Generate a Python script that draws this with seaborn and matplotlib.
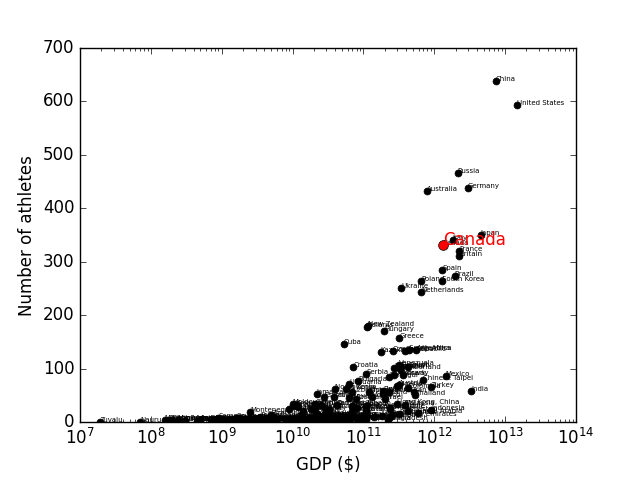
"""Olympic team size against GDP, one dot per country."""

import matplotlib
matplotlib.use("Agg")
import matplotlib.pyplot as plt
import pandas as pd
import seaborn as sns

plt.style.use("classic")

# country, GDP ($), number of athletes
countries = [
    "China", "United States", "Russia", "Germany", "Australia", "Japan", "Italy",
    "Canada", "France", "Britain", "Spain", "Brazil", "South Korea", "Poland",
    "Ukraine", "Netherlands", "Belarus", "New Zealand", "Hungary", "Greece", "Cuba",
    "Kazakhstan", "Czech Republic", "Sweden", "South Africa", "Argentina",
    "Croatia", "Venezuela", "Serbia", "Romania", "Belgium", "Egypt", "Switzerland",
    "Portugal", "Denmark", "Norway", "Chinese Taipei", "Mexico", "Bulgaria",
    "Turkey", "Colombia", "Iran", "India", "Jamaica", "Nigeria", "Austria",
    "Lithuania", "Latvia", "Estonia", "Slovenia", "Slovakia", "Finland", "Ireland",
    "Uzbekistan", "Azerbaijan", "Georgia", "Armenia", "Morocco", "Algeria",
    "Tunisia", "Kenya", "Ethiopia", "Thailand", "Malaysia", "Singapore",
    "Indonesia", "Philippines", "Vietnam", "Pakistan", "Chile", "Peru",
    "Puerto Rico", "Dominican Republic", "Israel", "Saudi Arabia", "Qatar",
    "United Arab Emirates", "Hong Kong, China", "North Korea", "Mongolia",
    "Kyrgyzstan", "Tajikistan", "Moldova", "Bosnia and Herzegovina", "Macedonia",
    "Albania", "Montenegro", "Iceland", "Luxembourg", "Cyprus", "Malta",
    "Ecuador", "Bolivia", "Paraguay", "Uruguay", "Costa Rica", "Guatemala",
    "El Salvador", "Honduras", "Nicaragua", "Panama", "Trinidad and Tobago",
    "Barbados", "Bahamas", "Cameroon", "Senegal", "Ivory Coast", "Ghana", "Sudan",
    "Angola", "Mali", "Zimbabwe", "Uganda", "Tanzania", "Botswana", "Namibia",
    "Zambia", "Mozambique", "Madagascar", "Gabon", "Congo", "Benin",
    "Burkina Faso", "Guinea", "Niger", "Rwanda", "Malawi", "Togo", "Chad",
    "Mauritania", "Haiti", "Afghanistan", "Nepal", "Cambodia", "Laos",
    "Bangladesh", "Sri Lanka", "Myanmar", "Syria", "Jordan", "Lebanon", "Oman",
    "Bahrain", "Kuwait", "Iraq", "Yemen", "Libya", "Turkmenistan",
    "Papua New Guinea", "Fiji", "Samoa", "Tonga", "Vanuatu", "Solomon Islands",
    "Kiribati", "Palau", "Micronesia", "Marshall Islands", "Cook Islands",
    "American Samoa", "Guam", "Nauru", "Tuvalu", "Eritrea", "Swaziland",
    "Lesotho", "Sierra Leone", "Liberia", "Gambia", "Guinea-Bissau",
    "Cape Verde", "Sao Tome and Principe", "Comoros", "Seychelles", "Djibouti",
    "Burundi", "Central African Republic", "Equatorial Guinea", "Somalia",
    "Suriname", "Guyana", "Belize", "Grenada", "Saint Lucia", "Dominica",
    "Saint Kitts and Nevis", "Antigua and Barbuda", "Saint Vincent",
    "Bermuda", "Cayman Islands", "Aruba", "British Virgin Islands",
    "US Virgin Islands", "Andorra", "Liechtenstein", "Monaco", "San Marino",
    "Bhutan", "Maldives", "Timor-Leste", "Palestine", "DR Congo",
]

gdp = [
    7.4e12, 1.47e13, 2.15e12, 2.95e12, 7.8e11, 4.55e12, 1.82e12,
    1.32e12, 2.25e12, 2.25e12, 1.29e12, 1.95e12, 1.3e12, 6.5e11,
    3.4e11, 6.6e11, 1.12e11, 1.15e11, 1.95e11, 3.2e11, 5.3e10,
    1.75e11, 2.6e11, 3.9e11, 4.4e11, 5.6e11,
    7.2e10, 3.2e11, 1.1e11, 2.7e11, 3.4e11, 4.3e11, 3.3e11,
    2.3e11, 2.7e11, 3.6e11, 7.0e11, 1.45e12, 8.5e10,
    8.9e11, 4.3e11, 5.1e11, 3.3e12, 2.2e10, 3.0e11, 3.2e11,
    6.3e10, 3.9e10, 2.8e10, 5.6e10, 1.2e11, 1.9e11, 1.9e11,
    7.0e10, 7.8e10, 2.1e10, 1.8e10, 1.3e11, 2.3e11,
    8.0e10, 6.2e10, 6.8e10, 5.4e11, 3.8e11, 2.4e11,
    9.0e11, 3.2e11, 2.4e11, 4.3e11, 2.4e11, 2.5e11,
    7.0e10, 7.5e10, 2.0e11, 5.8e11, 1.1e11,
    1.8e11, 3.0e11, 4.0e10, 1.0e10,
    1.1e10, 1.3e10, 1.0e10, 3.0e10, 1.9e10,
    2.3e10, 2.5e9, 1.2e10, 3.8e10, 2.2e10, 1.0e10,
    1.1e11, 4.3e10, 2.8e10, 4.3e10, 4.8e10, 6.7e10,
    4.3e10, 2.9e10, 1.6e10, 3.9e10, 2.5e10,
    5.0e9, 9.0e9, 4.2e10, 2.1e10, 3.3e10, 3.3e10, 8.5e10,
    1.1e11, 1.4e10, 5.0e9, 3.5e10, 5.0e10, 2.6e10, 1.3e10,
    1.8e10, 1.7e10, 1.9e10, 2.2e10, 1.4e10, 1.2e10,
    1.7e10, 1.0e10, 9.0e9, 8.0e9, 1.2e10, 5.0e9, 1.5e10,
    6.0e9, 1.1e10, 2.3e10, 3.0e10, 2.7e10, 1.3e10,
    2.2e11, 9.0e10, 8.0e10, 9.0e10, 3.0e10, 4.6e10, 6.5e10,
    2.8e10, 1.4e11, 1.1e11, 5.5e10, 9.0e10, 2.6e10,
    1.2e10, 3.5e9, 9.0e8, 4.5e8, 8.0e8, 1.2e9,
    3.0e8, 1.8e8, 2.4e8, 1.6e8, 2.0e8,
    5.0e8, 2.5e9, 7.0e7, 1.9e7, 3.5e9, 5.5e9,
    3.0e9, 4.0e9, 1.5e9, 2.0e9, 1.0e9,
    1.6e9, 3.0e8, 7.0e8, 1.6e9, 1.8e9,
    3.0e9, 3.0e9, 2.3e10, 8.0e9,
    4.0e9, 2.8e9, 2.3e9, 9.0e8, 1.6e9, 5.0e8,
    7.0e8, 1.2e9, 9.0e8,
    4.5e9, 2.0e9, 2.5e9, 1.0e9,
    1.6e9, 3.0e9, 4.0e9, 5.0e9, 1.7e9,
    3.0e9, 2.0e9, 2.5e9, 5.0e9, 2.0e10,
]

athletes = [
    638, 593, 466, 438, 433, 351, 341,
    331, 321, 311, 285, 274, 265, 265,
    252, 243, 179, 181, 170, 157, 147,
    131, 133, 134, 136, 136,
    104, 108, 90, 101, 104, 103, 99,
    84, 88, 88, 80, 86, 77,
    67, 65, 56, 58, 54, 68, 70,
    71, 47, 47, 62, 57, 58, 54,
    56, 44, 35, 25, 47, 56,
    27, 46, 31, 51, 32, 26,
    24, 15, 11, 21, 25, 14,
    22, 26, 43, 18, 21,
    12, 34, 63, 30,
    32, 14, 35, 5, 9,
    11, 19, 28, 12, 16, 6,
    25, 6, 7, 12, 7, 12,
    11, 26, 6, 3, 32,
    11, 25, 33, 23, 23, 9, 9,
    31, 22, 14, 10, 7, 12, 10,
    8, 4, 6, 6, 6, 5,
    6, 5, 4, 5, 4, 3, 2,
    2, 7, 4, 5, 4, 4,
    5, 8, 6, 8, 7, 6, 4,
    13, 10, 4, 5, 6, 10,
    7, 6, 8, 3, 3, 2,
    3, 5, 5, 5, 4,
    4, 7, 1, 1, 10, 4,
    4, 3, 3, 3, 4,
    3, 3, 3, 8, 2,
    4, 4, 4, 2,
    5, 4, 3, 4, 4, 2,
    5, 5, 3,
    6, 4, 2, 2,
    7, 5, 2, 5, 4,
    2, 4, 2, 4, 4,
]

highlight = "Canada"

df = pd.DataFrame({"country": countries, "gdp": gdp, "athletes": athletes})

fig, ax = plt.subplots(figsize=(6.4, 4.8), dpi=100)
fig.subplots_adjust(left=0.125, right=0.9, bottom=0.12, top=0.9)

sns.scatterplot(data=df, x="gdp", y="athletes", color="black", edgecolor="black",
                s=25, linewidth=0.5, ax=ax, zorder=3)
for _, row in df.iterrows():
    ax.text(row["gdp"], row["athletes"], row["country"], fontsize=5, zorder=4)

hl = df[df["country"] == highlight]
sns.scatterplot(data=hl, x="gdp", y="athletes", color="red", edgecolor="black",
                s=49, linewidth=0.5, ax=ax, zorder=5)
ax.text(hl["gdp"].iloc[0], hl["athletes"].iloc[0], highlight, color="red",
        fontsize=12, zorder=6)

ax.set_xscale("log")
ax.set_xlim(1e7, 1e14)
ax.set_ylim(0, 700)
ax.set_xlabel("GDP ($)")
ax.set_ylabel("Number of athletes")

fig.savefig("out.png", dpi=100, facecolor="white")
